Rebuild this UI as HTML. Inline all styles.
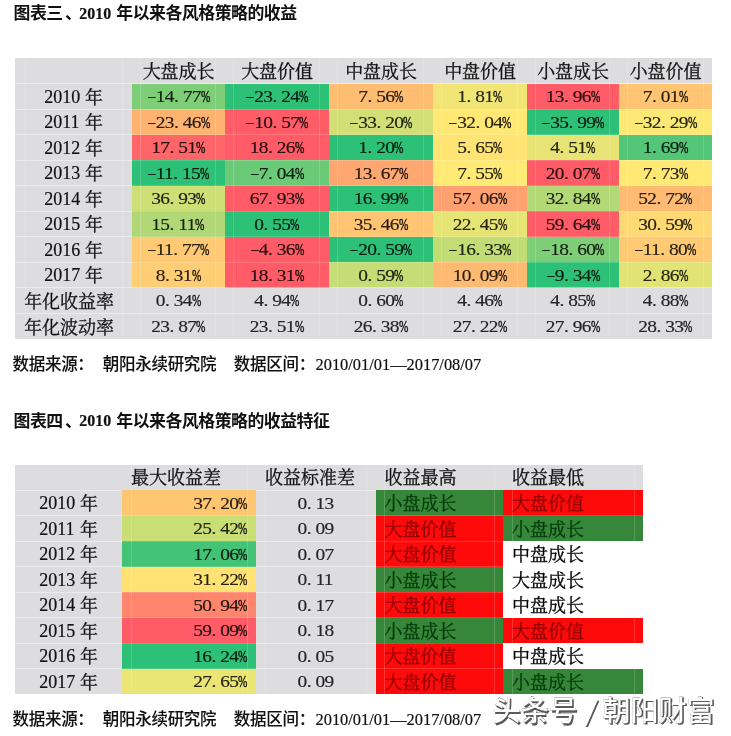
<!DOCTYPE html>
<html lang="zh"><head><meta charset="utf-8"><title>图表</title>
<style>
html,body{margin:0;padding:0;background:#fff}
body{width:731px;height:736px;position:relative;overflow:hidden;font-family:"Liberation Serif",serif;color:#111}
.r,.g,.t,svg{position:absolute}
.g{background:rgba(255,255,255,.45)}
.g2{position:absolute;background:rgba(255,255,255,.17)}
.t{white-space:pre;line-height:normal}
.t{-webkit-text-stroke:.2px currentColor}
.n{color:rgba(0,0,0,.84)}
.n{font-size:19.4px;letter-spacing:-0.70px;transform:scaleY(0.885);transform-origin:0 17.29px}
.n i{font-style:normal;display:inline-block;width:9px}
.n .q{transform:scaleX(.58);transform-origin:0 50%;-webkit-text-stroke:.55px currentColor}
.n .p{text-indent:.02em}
.n .m{position:relative;top:-1.5px;transform:scaleX(.74)}
svg{left:0;top:0}
#w{position:absolute;left:0;top:0;width:731px;height:736px;filter:blur(.45px)}
.kb{font-family:"Liberation Sans","Noto Sans CJK SC",sans-serif;font-weight:bold;font-size:16.89px;letter-spacing:-0.49px}
.sf{font-family:"Liberation Serif","Noto Serif CJK SC",serif;font-size:18px;stroke:#111;stroke-width:.3px}
.sg{fill:#043808;stroke:#043808}
.sr{fill:#8c0000;stroke:#8c0000}
.sk{fill:#000;stroke:#000}
.ms{font-family:"Liberation Sans","Noto Sans CJK SC",sans-serif;font-weight:500;font-size:16.5px;letter-spacing:-0.3px;stroke:#111;stroke-width:.08px}
.wm{font-family:"Liberation Sans","Noto Sans CJK SC",sans-serif;font-weight:500;stroke:#111;stroke-width:.14px}
</style></head>
<body><div id="w">
<span class="t" style="left:79.30px;top:5.13px;font-size:15.9px;font-weight:bold;">2010</span>
<div class="r" style="left:15.00px;top:58.00px;width:697.00px;height:280.50px;background:#dddde0"></div>
<div class="r" style="left:132.00px;top:83.50px;width:93.00px;height:25.50px;background:#7ece77"></div>
<div class="r" style="left:225.00px;top:83.50px;width:104.00px;height:25.50px;background:#2cc176"></div>
<div class="r" style="left:329.00px;top:83.50px;width:104.00px;height:25.50px;background:#ffbd72"></div>
<div class="r" style="left:433.00px;top:83.50px;width:94.00px;height:25.50px;background:#f1e675"></div>
<div class="r" style="left:527.00px;top:83.50px;width:92.00px;height:25.50px;background:#ff5c68"></div>
<div class="r" style="left:619.00px;top:83.50px;width:93.00px;height:25.50px;background:#ffc572"></div>
<span class="t" style="left:44.25px;top:86.86px;font-size:18px;">2010</span>
<span class="t n" style="left:146.70px;top:85.11px;"><i class="m">–</i>14<i class="p">.</i>77<i class="q">%</i></span>
<span class="t n" style="left:245.20px;top:85.11px;"><i class="m">–</i>23<i class="p">.</i>24<i class="q">%</i></span>
<span class="t n" style="left:358.20px;top:85.11px;">7<i class="p">.</i>56<i class="q">%</i></span>
<span class="t n" style="left:457.20px;top:85.11px;">1<i class="p">.</i>81<i class="q">%</i></span>
<span class="t n" style="left:545.70px;top:85.11px;">13<i class="p">.</i>96<i class="q">%</i></span>
<span class="t n" style="left:642.70px;top:85.11px;">7<i class="p">.</i>01<i class="q">%</i></span>
<div class="r" style="left:132.00px;top:109.00px;width:93.00px;height:25.50px;background:#ffb371"></div>
<div class="r" style="left:225.00px;top:109.00px;width:104.00px;height:25.50px;background:#ff5c68"></div>
<div class="r" style="left:329.00px;top:109.00px;width:104.00px;height:25.50px;background:#d1df76"></div>
<div class="r" style="left:433.00px;top:109.00px;width:94.00px;height:25.50px;background:#ffe974"></div>
<div class="r" style="left:527.00px;top:109.00px;width:92.00px;height:25.50px;background:#2cc176"></div>
<div class="r" style="left:619.00px;top:109.00px;width:93.00px;height:25.50px;background:#fce975"></div>
<span class="t" style="left:44.25px;top:112.36px;font-size:18px;">2011</span>
<span class="t n" style="left:146.70px;top:110.61px;"><i class="m">–</i>23<i class="p">.</i>46<i class="q">%</i></span>
<span class="t n" style="left:245.20px;top:110.61px;"><i class="m">–</i>10<i class="p">.</i>57<i class="q">%</i></span>
<span class="t n" style="left:349.20px;top:110.61px;"><i class="m">–</i>33<i class="p">.</i>20<i class="q">%</i></span>
<span class="t n" style="left:448.20px;top:110.61px;"><i class="m">–</i>32<i class="p">.</i>04<i class="q">%</i></span>
<span class="t n" style="left:541.20px;top:110.61px;"><i class="m">–</i>35<i class="p">.</i>99<i class="q">%</i></span>
<span class="t n" style="left:633.70px;top:110.61px;"><i class="m">–</i>32<i class="p">.</i>29<i class="q">%</i></span>
<div class="r" style="left:132.00px;top:134.50px;width:93.00px;height:25.50px;background:#ff6569"></div>
<div class="r" style="left:225.00px;top:134.50px;width:104.00px;height:25.50px;background:#ff5c68"></div>
<div class="r" style="left:329.00px;top:134.50px;width:104.00px;height:25.50px;background:#2cc176"></div>
<div class="r" style="left:433.00px;top:134.50px;width:94.00px;height:25.50px;background:#ffe474"></div>
<div class="r" style="left:527.00px;top:134.50px;width:92.00px;height:25.50px;background:#e7e475"></div>
<div class="r" style="left:619.00px;top:134.50px;width:93.00px;height:25.50px;background:#54c677"></div>
<span class="t" style="left:44.25px;top:137.86px;font-size:18px;">2012</span>
<span class="t n" style="left:151.20px;top:136.11px;">17<i class="p">.</i>51<i class="q">%</i></span>
<span class="t n" style="left:249.70px;top:136.11px;">18<i class="p">.</i>26<i class="q">%</i></span>
<span class="t n" style="left:358.20px;top:136.11px;">1<i class="p">.</i>20<i class="q">%</i></span>
<span class="t n" style="left:457.20px;top:136.11px;">5<i class="p">.</i>65<i class="q">%</i></span>
<span class="t n" style="left:550.20px;top:136.11px;">4<i class="p">.</i>51<i class="q">%</i></span>
<span class="t n" style="left:642.70px;top:136.11px;">1<i class="p">.</i>69<i class="q">%</i></span>
<div class="r" style="left:132.00px;top:160.00px;width:93.00px;height:25.50px;background:#2cc176"></div>
<div class="r" style="left:225.00px;top:160.00px;width:104.00px;height:25.50px;background:#6bca77"></div>
<div class="r" style="left:329.00px;top:160.00px;width:104.00px;height:25.50px;background:#ffa770"></div>
<div class="r" style="left:433.00px;top:160.00px;width:94.00px;height:25.50px;background:#ffea75"></div>
<div class="r" style="left:527.00px;top:160.00px;width:92.00px;height:25.50px;background:#ff5c68"></div>
<div class="r" style="left:619.00px;top:160.00px;width:93.00px;height:25.50px;background:#ffe974"></div>
<span class="t" style="left:44.25px;top:163.36px;font-size:18px;">2013</span>
<span class="t n" style="left:146.70px;top:161.61px;"><i class="m">–</i>11<i class="p">.</i>15<i class="q">%</i></span>
<span class="t n" style="left:249.70px;top:161.61px;"><i class="m">–</i>7<i class="p">.</i>04<i class="q">%</i></span>
<span class="t n" style="left:353.70px;top:161.61px;">13<i class="p">.</i>67<i class="q">%</i></span>
<span class="t n" style="left:457.20px;top:161.61px;">7<i class="p">.</i>55<i class="q">%</i></span>
<span class="t n" style="left:545.70px;top:161.61px;">20<i class="p">.</i>07<i class="q">%</i></span>
<span class="t n" style="left:642.70px;top:161.61px;">7<i class="p">.</i>73<i class="q">%</i></span>
<div class="r" style="left:132.00px;top:185.50px;width:93.00px;height:25.50px;background:#cedf76"></div>
<div class="r" style="left:225.00px;top:185.50px;width:104.00px;height:25.50px;background:#ff5c68"></div>
<div class="r" style="left:329.00px;top:185.50px;width:104.00px;height:25.50px;background:#2cc176"></div>
<div class="r" style="left:433.00px;top:185.50px;width:94.00px;height:25.50px;background:#ffa170"></div>
<div class="r" style="left:527.00px;top:185.50px;width:92.00px;height:25.50px;background:#b3d976"></div>
<div class="r" style="left:619.00px;top:185.50px;width:93.00px;height:25.50px;background:#ffbb72"></div>
<span class="t" style="left:44.25px;top:188.86px;font-size:18px;">2014</span>
<span class="t n" style="left:151.20px;top:187.11px;">36<i class="p">.</i>93<i class="q">%</i></span>
<span class="t n" style="left:249.70px;top:187.11px;">67<i class="p">.</i>93<i class="q">%</i></span>
<span class="t n" style="left:353.70px;top:187.11px;">16<i class="p">.</i>99<i class="q">%</i></span>
<span class="t n" style="left:452.70px;top:187.11px;">57<i class="p">.</i>06<i class="q">%</i></span>
<span class="t n" style="left:545.70px;top:187.11px;">32<i class="p">.</i>84<i class="q">%</i></span>
<span class="t n" style="left:638.20px;top:187.11px;">52<i class="p">.</i>72<i class="q">%</i></span>
<div class="r" style="left:132.00px;top:211.00px;width:93.00px;height:25.50px;background:#b1d876"></div>
<div class="r" style="left:225.00px;top:211.00px;width:104.00px;height:25.50px;background:#2cc176"></div>
<div class="r" style="left:329.00px;top:211.00px;width:104.00px;height:25.50px;background:#ffc572"></div>
<div class="r" style="left:433.00px;top:211.00px;width:94.00px;height:25.50px;background:#e6e475"></div>
<div class="r" style="left:527.00px;top:211.00px;width:92.00px;height:25.50px;background:#ff5c68"></div>
<div class="r" style="left:619.00px;top:211.00px;width:93.00px;height:25.50px;background:#ffd974"></div>
<span class="t" style="left:44.25px;top:214.36px;font-size:18px;">2015</span>
<span class="t n" style="left:151.20px;top:212.61px;">15<i class="p">.</i>11<i class="q">%</i></span>
<span class="t n" style="left:254.20px;top:212.61px;">0<i class="p">.</i>55<i class="q">%</i></span>
<span class="t n" style="left:353.70px;top:212.61px;">35<i class="p">.</i>46<i class="q">%</i></span>
<span class="t n" style="left:452.70px;top:212.61px;">22<i class="p">.</i>45<i class="q">%</i></span>
<span class="t n" style="left:545.70px;top:212.61px;">59<i class="p">.</i>64<i class="q">%</i></span>
<span class="t n" style="left:638.20px;top:212.61px;">30<i class="p">.</i>59<i class="q">%</i></span>
<div class="r" style="left:132.00px;top:236.50px;width:93.00px;height:25.50px;background:#ffca73"></div>
<div class="r" style="left:225.00px;top:236.50px;width:104.00px;height:25.50px;background:#ff5c68"></div>
<div class="r" style="left:329.00px;top:236.50px;width:104.00px;height:25.50px;background:#2cc176"></div>
<div class="r" style="left:433.00px;top:236.50px;width:94.00px;height:25.50px;background:#c2dc76"></div>
<div class="r" style="left:527.00px;top:236.50px;width:92.00px;height:25.50px;background:#7ece77"></div>
<div class="r" style="left:619.00px;top:236.50px;width:93.00px;height:25.50px;background:#ffca73"></div>
<span class="t" style="left:44.25px;top:239.86px;font-size:18px;">2016</span>
<span class="t n" style="left:146.70px;top:238.11px;"><i class="m">–</i>11<i class="p">.</i>77<i class="q">%</i></span>
<span class="t n" style="left:249.70px;top:238.11px;"><i class="m">–</i>4<i class="p">.</i>36<i class="q">%</i></span>
<span class="t n" style="left:349.20px;top:238.11px;"><i class="m">–</i>20<i class="p">.</i>59<i class="q">%</i></span>
<span class="t n" style="left:448.20px;top:238.11px;"><i class="m">–</i>16<i class="p">.</i>33<i class="q">%</i></span>
<span class="t n" style="left:541.20px;top:238.11px;"><i class="m">–</i>18<i class="p">.</i>60<i class="q">%</i></span>
<span class="t n" style="left:633.70px;top:238.11px;"><i class="m">–</i>11<i class="p">.</i>80<i class="q">%</i></span>
<div class="r" style="left:132.00px;top:262.00px;width:93.00px;height:25.50px;background:#ffcd73"></div>
<div class="r" style="left:225.00px;top:262.00px;width:104.00px;height:25.50px;background:#ff5c68"></div>
<div class="r" style="left:329.00px;top:262.00px;width:104.00px;height:25.50px;background:#c5dd76"></div>
<div class="r" style="left:433.00px;top:262.00px;width:94.00px;height:25.50px;background:#ffba72"></div>
<div class="r" style="left:527.00px;top:262.00px;width:92.00px;height:25.50px;background:#2cc176"></div>
<div class="r" style="left:619.00px;top:262.00px;width:93.00px;height:25.50px;background:#e1e375"></div>
<span class="t" style="left:44.25px;top:265.36px;font-size:18px;">2017</span>
<span class="t n" style="left:155.70px;top:263.61px;">8<i class="p">.</i>31<i class="q">%</i></span>
<span class="t n" style="left:249.70px;top:263.61px;">18<i class="p">.</i>31<i class="q">%</i></span>
<span class="t n" style="left:358.20px;top:263.61px;">0<i class="p">.</i>59<i class="q">%</i></span>
<span class="t n" style="left:452.70px;top:263.61px;">10<i class="p">.</i>09<i class="q">%</i></span>
<span class="t n" style="left:545.70px;top:263.61px;"><i class="m">–</i>9<i class="p">.</i>34<i class="q">%</i></span>
<span class="t n" style="left:642.70px;top:263.61px;">2<i class="p">.</i>86<i class="q">%</i></span>
<span class="t n" style="left:155.70px;top:289.11px;">0<i class="p">.</i>34<i class="q">%</i></span>
<span class="t n" style="left:254.20px;top:289.11px;">4<i class="p">.</i>94<i class="q">%</i></span>
<span class="t n" style="left:358.20px;top:289.11px;">0<i class="p">.</i>60<i class="q">%</i></span>
<span class="t n" style="left:457.20px;top:289.11px;">4<i class="p">.</i>46<i class="q">%</i></span>
<span class="t n" style="left:550.20px;top:289.11px;">4<i class="p">.</i>85<i class="q">%</i></span>
<span class="t n" style="left:642.70px;top:289.11px;">4<i class="p">.</i>88<i class="q">%</i></span>
<span class="t n" style="left:151.20px;top:314.61px;">23<i class="p">.</i>87<i class="q">%</i></span>
<span class="t n" style="left:249.70px;top:314.61px;">23<i class="p">.</i>51<i class="q">%</i></span>
<span class="t n" style="left:353.70px;top:314.61px;">26<i class="p">.</i>38<i class="q">%</i></span>
<span class="t n" style="left:452.70px;top:314.61px;">27<i class="p">.</i>22<i class="q">%</i></span>
<span class="t n" style="left:545.70px;top:314.61px;">27<i class="p">.</i>96<i class="q">%</i></span>
<span class="t n" style="left:638.20px;top:314.61px;">28<i class="p">.</i>33<i class="q">%</i></span>
<div class="g" style="left:15px;top:83.00px;width:117px;height:1px"></div>
<div class="g" style="left:132px;top:83.00px;width:580px;height:1px"></div>
<div class="g" style="left:15px;top:108.50px;width:117px;height:1px"></div>
<div class="g2" style="left:132px;top:108.50px;width:580px;height:1px"></div>
<div class="g" style="left:15px;top:134.00px;width:117px;height:1px"></div>
<div class="g2" style="left:132px;top:134.00px;width:580px;height:1px"></div>
<div class="g" style="left:15px;top:159.50px;width:117px;height:1px"></div>
<div class="g2" style="left:132px;top:159.50px;width:580px;height:1px"></div>
<div class="g" style="left:15px;top:185.00px;width:117px;height:1px"></div>
<div class="g2" style="left:132px;top:185.00px;width:580px;height:1px"></div>
<div class="g" style="left:15px;top:210.50px;width:117px;height:1px"></div>
<div class="g2" style="left:132px;top:210.50px;width:580px;height:1px"></div>
<div class="g" style="left:15px;top:236.00px;width:117px;height:1px"></div>
<div class="g2" style="left:132px;top:236.00px;width:580px;height:1px"></div>
<div class="g" style="left:15px;top:261.50px;width:117px;height:1px"></div>
<div class="g2" style="left:132px;top:261.50px;width:580px;height:1px"></div>
<div class="g" style="left:15px;top:287.00px;width:117px;height:1px"></div>
<div class="g" style="left:132px;top:287.00px;width:580px;height:1px"></div>
<div class="g" style="left:15px;top:312.50px;width:117px;height:1px"></div>
<div class="g" style="left:132px;top:312.50px;width:580px;height:1px"></div>
<div class="g2" style="left:122.20px;top:58px;width:1px;height:280.5px"></div>
<div class="g2" style="left:140.10px;top:58px;width:1px;height:280.5px"></div>
<div class="g2" style="left:215.20px;top:58px;width:1px;height:280.5px"></div>
<div class="g2" style="left:233.10px;top:58px;width:1px;height:280.5px"></div>
<div class="g2" style="left:319.20px;top:58px;width:1px;height:280.5px"></div>
<div class="g2" style="left:337.10px;top:58px;width:1px;height:280.5px"></div>
<div class="g2" style="left:423.20px;top:58px;width:1px;height:280.5px"></div>
<div class="g2" style="left:441.10px;top:58px;width:1px;height:280.5px"></div>
<div class="g2" style="left:517.20px;top:58px;width:1px;height:280.5px"></div>
<div class="g2" style="left:535.10px;top:58px;width:1px;height:280.5px"></div>
<div class="g2" style="left:609.20px;top:58px;width:1px;height:280.5px"></div>
<div class="g2" style="left:627.10px;top:58px;width:1px;height:280.5px"></div>
<div class="g2" style="left:24.50px;top:58px;width:1px;height:280.5px"></div>
<div class="g2" style="left:702.50px;top:58px;width:1px;height:280.5px"></div>
<span class="t" style="left:315.50px;top:355.39px;font-size:16.4px;">2010/01/01—2017/08/07</span>
<span class="t" style="left:79.30px;top:412.43px;font-size:15.9px;font-weight:bold;">2010</span>
<div class="r" style="left:15.00px;top:465.00px;width:628.00px;height:25.00px;background:#dddde0"></div>
<div class="r" style="left:15.00px;top:490.00px;width:360.50px;height:204.00px;background:#dddde0"></div>
<div class="r" style="left:122.00px;top:490.00px;width:134.00px;height:25.50px;background:#ffc672"></div>
<span class="t" style="left:39.25px;top:493.46px;font-size:18px;">2010</span>
<span class="t n" style="left:193.20px;top:491.61px;">37<i class="p">.</i>20<i class="q">%</i></span>
<span class="t n" style="left:297.45px;top:491.61px;">0<i class="p">.</i>13</span>
<div class="r" style="left:375.50px;top:490.00px;width:127.50px;height:25.50px;background:#37873a"></div>
<div class="r" style="left:503.00px;top:490.00px;width:140.00px;height:25.50px;background:#ff0a0a"></div>
<div class="r" style="left:122.00px;top:515.50px;width:134.00px;height:25.50px;background:#cade76"></div>
<span class="t" style="left:39.25px;top:518.96px;font-size:18px;">2011</span>
<span class="t n" style="left:193.20px;top:517.11px;">25<i class="p">.</i>42<i class="q">%</i></span>
<span class="t n" style="left:297.45px;top:517.11px;">0<i class="p">.</i>09</span>
<div class="r" style="left:375.50px;top:515.50px;width:127.50px;height:25.50px;background:#ff0a0a"></div>
<div class="r" style="left:503.00px;top:515.50px;width:140.00px;height:25.50px;background:#37873a"></div>
<div class="r" style="left:122.00px;top:541.00px;width:134.00px;height:25.50px;background:#42c376"></div>
<span class="t" style="left:39.25px;top:544.46px;font-size:18px;">2012</span>
<span class="t n" style="left:193.20px;top:542.61px;">17<i class="p">.</i>06<i class="q">%</i></span>
<span class="t n" style="left:297.45px;top:542.61px;">0<i class="p">.</i>07</span>
<div class="r" style="left:375.50px;top:541.00px;width:127.50px;height:25.50px;background:#ff0a0a"></div>
<div class="r" style="left:503.00px;top:541.00px;width:140.00px;height:25.50px;background:#ffffff"></div>
<div class="r" style="left:122.00px;top:566.50px;width:134.00px;height:25.50px;background:#ffe274"></div>
<span class="t" style="left:39.25px;top:569.96px;font-size:18px;">2013</span>
<span class="t n" style="left:193.20px;top:568.11px;">31<i class="p">.</i>22<i class="q">%</i></span>
<span class="t n" style="left:297.45px;top:568.11px;">0<i class="p">.</i>11</span>
<div class="r" style="left:375.50px;top:566.50px;width:127.50px;height:25.50px;background:#37873a"></div>
<div class="r" style="left:503.00px;top:566.50px;width:140.00px;height:25.50px;background:#ffffff"></div>
<div class="r" style="left:122.00px;top:592.00px;width:134.00px;height:25.50px;background:#ff856d"></div>
<span class="t" style="left:39.25px;top:595.46px;font-size:18px;">2014</span>
<span class="t n" style="left:193.20px;top:593.61px;">50<i class="p">.</i>94<i class="q">%</i></span>
<span class="t n" style="left:297.45px;top:593.61px;">0<i class="p">.</i>17</span>
<div class="r" style="left:375.50px;top:592.00px;width:127.50px;height:25.50px;background:#ff0a0a"></div>
<div class="r" style="left:503.00px;top:592.00px;width:140.00px;height:25.50px;background:#ffffff"></div>
<div class="r" style="left:122.00px;top:617.50px;width:134.00px;height:25.50px;background:#ff5c68"></div>
<span class="t" style="left:39.25px;top:620.96px;font-size:18px;">2015</span>
<span class="t n" style="left:193.20px;top:619.11px;">59<i class="p">.</i>09<i class="q">%</i></span>
<span class="t n" style="left:297.45px;top:619.11px;">0<i class="p">.</i>18</span>
<div class="r" style="left:375.50px;top:617.50px;width:127.50px;height:25.50px;background:#37873a"></div>
<div class="r" style="left:503.00px;top:617.50px;width:140.00px;height:25.50px;background:#ff0a0a"></div>
<div class="r" style="left:122.00px;top:643.00px;width:134.00px;height:25.50px;background:#2cc176"></div>
<span class="t" style="left:39.25px;top:646.46px;font-size:18px;">2016</span>
<span class="t n" style="left:193.20px;top:644.61px;">16<i class="p">.</i>24<i class="q">%</i></span>
<span class="t n" style="left:297.45px;top:644.61px;">0<i class="p">.</i>05</span>
<div class="r" style="left:375.50px;top:643.00px;width:127.50px;height:25.50px;background:#ff0a0a"></div>
<div class="r" style="left:503.00px;top:643.00px;width:140.00px;height:25.50px;background:#ffffff"></div>
<div class="r" style="left:122.00px;top:668.50px;width:134.00px;height:25.50px;background:#eae575"></div>
<span class="t" style="left:39.25px;top:671.96px;font-size:18px;">2017</span>
<span class="t n" style="left:193.20px;top:670.11px;">27<i class="p">.</i>65<i class="q">%</i></span>
<span class="t n" style="left:297.45px;top:670.11px;">0<i class="p">.</i>09</span>
<div class="r" style="left:375.50px;top:668.50px;width:127.50px;height:25.50px;background:#ff0a0a"></div>
<div class="r" style="left:503.00px;top:668.50px;width:140.00px;height:25.50px;background:#37873a"></div>
<div class="g" style="left:15px;top:489.50px;width:107px;height:1px"></div>
<div class="g" style="left:256px;top:489.50px;width:119.5px;height:1px"></div>
<div class="g" style="left:15px;top:515.00px;width:107px;height:1px"></div>
<div class="g" style="left:256px;top:515.00px;width:119.5px;height:1px"></div>
<div class="g" style="left:15px;top:540.50px;width:107px;height:1px"></div>
<div class="g" style="left:256px;top:540.50px;width:119.5px;height:1px"></div>
<div class="g" style="left:15px;top:566.00px;width:107px;height:1px"></div>
<div class="g" style="left:256px;top:566.00px;width:119.5px;height:1px"></div>
<div class="g" style="left:15px;top:591.50px;width:107px;height:1px"></div>
<div class="g" style="left:256px;top:591.50px;width:119.5px;height:1px"></div>
<div class="g" style="left:15px;top:617.00px;width:107px;height:1px"></div>
<div class="g" style="left:256px;top:617.00px;width:119.5px;height:1px"></div>
<div class="g" style="left:15px;top:642.50px;width:107px;height:1px"></div>
<div class="g" style="left:256px;top:642.50px;width:119.5px;height:1px"></div>
<div class="g" style="left:15px;top:668.00px;width:107px;height:1px"></div>
<div class="g" style="left:256px;top:668.00px;width:119.5px;height:1px"></div>
<div class="g" style="left:15px;top:693.50px;width:107px;height:1px"></div>
<div class="g" style="left:256px;top:693.50px;width:119.5px;height:1px"></div>
<div class="g2" style="left:375.5px;top:515.00px;width:267.5px;height:1px"></div>
<div class="g2" style="left:122px;top:515.00px;width:134px;height:1px"></div>
<div class="g2" style="left:375.5px;top:540.50px;width:267.5px;height:1px"></div>
<div class="g2" style="left:122px;top:540.50px;width:134px;height:1px"></div>
<div class="g2" style="left:375.5px;top:566.00px;width:267.5px;height:1px"></div>
<div class="g2" style="left:122px;top:566.00px;width:134px;height:1px"></div>
<div class="g2" style="left:375.5px;top:591.50px;width:267.5px;height:1px"></div>
<div class="g2" style="left:122px;top:591.50px;width:134px;height:1px"></div>
<div class="g2" style="left:375.5px;top:617.00px;width:267.5px;height:1px"></div>
<div class="g2" style="left:122px;top:617.00px;width:134px;height:1px"></div>
<div class="g2" style="left:375.5px;top:642.50px;width:267.5px;height:1px"></div>
<div class="g2" style="left:122px;top:642.50px;width:134px;height:1px"></div>
<div class="g2" style="left:375.5px;top:668.00px;width:267.5px;height:1px"></div>
<div class="g2" style="left:122px;top:668.00px;width:134px;height:1px"></div>
<div class="g2" style="left:494.20px;top:465px;width:1px;height:229.0px"></div>
<div class="g2" style="left:634.00px;top:465px;width:1px;height:229.0px"></div>
<div class="g2" style="left:384.00px;top:465px;width:1px;height:229.0px"></div>
<div class="g2" style="left:511.50px;top:465px;width:1px;height:229.0px"></div>
<div class="g2" style="left:130.50px;top:465px;width:1px;height:229.0px"></div>
<div class="g2" style="left:246.50px;top:465px;width:1px;height:229.0px"></div>
<div class="g2" style="left:264.50px;top:465px;width:1px;height:229.0px"></div>
<div class="g2" style="left:365.50px;top:465px;width:1px;height:229.0px"></div>
<span class="t" style="left:315.50px;top:709.89px;font-size:16.4px;">2010/01/01—2017/08/07</span>
<svg width="731" height="736" viewBox="0 0 731 736" fill="#111">
<defs>
<filter id="sh" x="-5%" y="-20%" width="110%" height="140%"><feGaussianBlur stdDeviation="0.6"/></filter></defs>
<text class="kb" x="13.56" y="19.49">图表三</text>
<text class="kb" x="64.96" y="19.49">、</text>
<text class="kb" x="116.35" y="19.49">年以来各风格策略的收益</text>
<text class="sf" x="142.63" y="78.03">大盘成长</text>
<text class="sf" x="241.13" y="78.03">大盘价值</text>
<text class="sf" x="345.13" y="78.03">中盘成长</text>
<text class="sf" x="444.13" y="78.03">中盘价值</text>
<text class="sf" x="537.13" y="78.03">小盘成长</text>
<text class="sf" x="629.63" y="78.03">小盘价值</text>
<text class="sf" x="84.89" y="103.53">年</text>
<text class="sf" x="84.89" y="129.03">年</text>
<text class="sf" x="84.89" y="154.53">年</text>
<text class="sf" x="84.89" y="180.03">年</text>
<text class="sf" x="84.89" y="205.53">年</text>
<text class="sf" x="84.89" y="231.03">年</text>
<text class="sf" x="84.89" y="256.53">年</text>
<text class="sf" x="84.89" y="282.03">年</text>
<text class="sf" x="24.13" y="308.33">年化收益率</text>
<text class="sf" x="24.13" y="333.83">年化波动率</text>
<text class="ms" x="12.54" y="370.12">数据来源：</text>
<text class="ms" x="102.84" y="370.12">朝阳永续研究院</text>
<text class="ms" x="233.84" y="370.12">数据区间：</text>
<text class="kb" x="13.56" y="426.79">图表四</text>
<text class="kb" x="64.96" y="426.79">、</text>
<text class="kb" x="116.35" y="426.79">年以来各风格策略的收益特征</text>
<text class="sf" x="131.03" y="483.83">最大收益差</text>
<text class="sf" x="265.03" y="483.83">收益标准差</text>
<text class="sf" x="384.53" y="483.83">收益最高</text>
<text class="sf" x="512.03" y="483.83">收益最低</text>
<text class="sf" x="79.89" y="510.03">年</text>
<text class="sf sg" x="384.44" y="510.03">小盘成长</text>
<text class="sf sr" x="511.93" y="510.03">大盘价值</text>
<text class="sf" x="79.89" y="535.53">年</text>
<text class="sf sr" x="384.44" y="535.53">大盘价值</text>
<text class="sf sg" x="511.93" y="535.53">小盘成长</text>
<text class="sf" x="79.89" y="561.03">年</text>
<text class="sf sr" x="384.44" y="561.03">大盘价值</text>
<text class="sf sk" x="511.93" y="561.03">中盘成长</text>
<text class="sf" x="79.89" y="586.53">年</text>
<text class="sf sg" x="384.44" y="586.53">小盘成长</text>
<text class="sf sk" x="511.93" y="586.53">大盘成长</text>
<text class="sf" x="79.89" y="612.03">年</text>
<text class="sf sr" x="384.44" y="612.03">大盘价值</text>
<text class="sf sk" x="511.93" y="612.03">中盘成长</text>
<text class="sf" x="79.89" y="637.53">年</text>
<text class="sf sg" x="384.44" y="637.53">小盘成长</text>
<text class="sf sr" x="511.93" y="637.53">大盘价值</text>
<text class="sf" x="79.89" y="663.03">年</text>
<text class="sf sr" x="384.44" y="663.03">大盘价值</text>
<text class="sf sk" x="511.93" y="663.03">中盘成长</text>
<text class="sf" x="79.89" y="688.53">年</text>
<text class="sf sr" x="384.44" y="688.53">大盘价值</text>
<text class="sf sg" x="511.93" y="688.53">小盘成长</text>
<text class="ms" x="12.54" y="724.62">数据来源：</text>
<text class="ms" x="102.84" y="724.62">朝阳永续研究院</text>
<text class="ms" x="233.84" y="724.62">数据区间：</text>
<g fill="#5a5a5a" transform="translate(1.4 1.4)" filter="url(#sh)"><text class="wm" x="492.40" y="721.20" font-size="28.3">头条号</text><text class="wm" x="602.50" y="720.90" font-size="28">朝阳财富</text></g>
<g fill="#5a5a5a" transform="translate(1.4 1.4)" filter="url(#sh)"><path d="M595.6 699.3 L598 699.3 L586.6 725.5 L584.2 725.5Z"/></g>
<g fill="#fff"><text class="wm" x="492.40" y="721.20" font-size="28.3">头条号</text><text class="wm" x="602.50" y="720.90" font-size="28">朝阳财富</text><path d="M595.6 699.3 L598 699.3 L586.6 725.5 L584.2 725.5Z"/></g>
</svg>
</div></body></html>
